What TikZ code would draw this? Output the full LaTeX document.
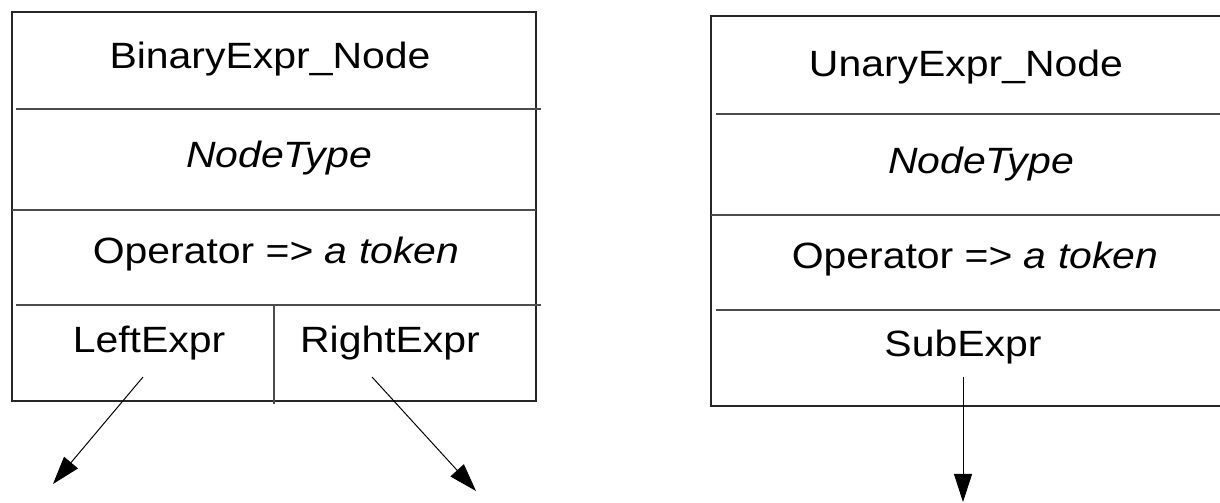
\documentclass[tikz,border=0pt]{standalone}
\usepackage{fontspec}
\setmainfont[FakeStretch=1.12]{Liberation Sans}
\usetikzlibrary{arrows.meta}

\begin{document}
\begin{tikzpicture}[x=0.025cm, y=-0.025cm,
    >={Triangle[length=0.7cm, width=0.45cm]},
    field/.style={anchor=base, inner sep=0pt, font=\fontsize{26}{30}\selectfont},
    frame/.style={draw=black!85, line width=1.1pt},
    rule/.style={draw=black!70, line width=0.9pt},
    ptr/.style={->, line width=0.7pt}
  ]
  \useasboundingbox (0,0) rectangle (1220,503);

  % binary expression record
  \draw[frame] (12,12) rectangle (536,401);
  \draw[rule] (16,109) -- (541,109);
  \draw[rule] (12,210) -- (536,210);
  \draw[rule] (16,305) -- (541,305);
  \draw[rule] (274,305) -- (274,404);

  \node[field] (bname) at (270,69)  {BinaryExpr\_Node};
  \node[field] (btype) at (279,168) {\itshape NodeType};
  \node[field] (bop)   at (276,264) {Operator => \textit{a token}};
  \node[field] (bleft) at (149,353) {LeftExpr};
  \node[field] (bright) at (390,353) {RightExpr};

  % unary expression record (runs off the right edge)
  \draw[frame] (1220,16) -- (711,16) -- (711,406) -- (1220,406);
  \draw[rule] (716,114) -- (1220,114);
  \draw[rule] (711,215) -- (1220,215);
  \draw[rule] (716,310) -- (1220,310);

  \node[field] (uname) at (966,77)  {UnaryExpr\_Node};
  \node[field] (utype) at (981,174) {\itshape NodeType};
  \node[field] (uop)   at (975,269) {Operator => \textit{a token}};
  \node[field] (usub)  at (963,357) {SubExpr};

  % child pointers
  \coordinate (lsrc) at (143,377);
  \coordinate (ldst) at (53,484);
  \coordinate (rsrc) at (372,377);
  \coordinate (rdst) at (476,491);
  \coordinate (ssrc) at (963,377);
  \coordinate (sdst) at (963,502);

  \draw[ptr] (lsrc) -- (ldst);
  \draw[ptr] (rsrc) -- (rdst);
  \draw[ptr] (ssrc) -- (sdst);
\end{tikzpicture}
\end{document}
